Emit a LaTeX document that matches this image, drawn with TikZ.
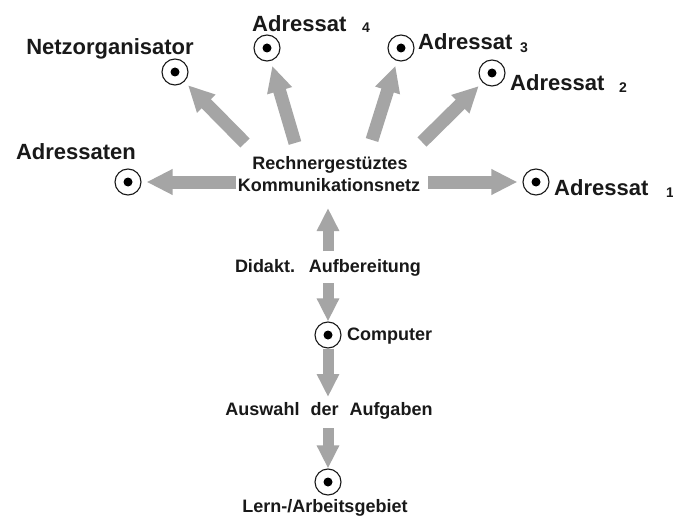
\documentclass[tikz,border=0pt]{standalone}
\usepackage{fontspec}
\setmainfont{Liberation Sans}
\usetikzlibrary{arrows.meta}
\definecolor{arrgray}{RGB}{165,165,165}
\definecolor{txt}{RGB}{25,25,25}
\begin{document}
\begin{tikzpicture}[x=1pt,y=-1pt,
  lbl/.style={font=\fontsize{22}{24}\selectfont\bfseries, text=txt, inner sep=0pt},
  mid/.style={font=\fontsize{18}{20}\selectfont\bfseries, text=txt, inner sep=0pt},
  idx/.style={font=\fontsize{14}{16}\selectfont\bfseries, text=txt, inner sep=0pt},
  pt/.style={circle, draw=txt, line width=1.1pt, minimum size=26pt, inner sep=0pt, fill=white,
    path picture={\fill[black] (path picture bounding box.center) circle (4.5pt);}},
  big/.style={draw=arrgray, line width=13pt, line cap=butt, -{Triangle[width=24pt,length=26pt]}, shorten >=5pt},
  small/.style={draw=arrgray, line width=11pt, line cap=butt, -{Triangle[width=21pt,length=23pt]}}
]
\useasboundingbox[fill=white] (0,0) rectangle (673,519);

% circles
\node[pt] (nzo) at (175,72) {};
\node[pt] (a4) at (267,48) {};
\node[pt] (a3) at (401,48) {};
\node[pt] (a2) at (492,73) {};
\node[pt] (ads) at (128,182) {};
\node[pt] (a1) at (536,182) {};
\node[pt] (comp) at (328,335) {};
\node[pt] (lern) at (328,482) {};

% labels
\node[lbl, anchor=base] (tnzo) at (110,55) {Netzorganisator};
\node[lbl, anchor=base] (tads) at (76,159) {Adressaten};
\node[lbl, anchor=base west] (ta4) at (252,32) {Adressat};
\node[idx, anchor=base west] (i4) at (362,33) {4};
\node[lbl, anchor=base west] (ta3) at (418,50) {Adressat};
\node[idx, anchor=base west] (i3) at (520,53) {3};
\node[lbl, anchor=base west] (ta2) at (510,91) {Adressat};
\node[idx, anchor=base west] (i2) at (619,93) {2};
\node[lbl, anchor=base west] (ta1) at (554,195) {Adressat};
\node[idx, anchor=base west] (i1) at (666,197) {1};

\node[mid, anchor=base] (r1) at (330,169) {Rechnergestüztes};
\node[mid, anchor=base] (r2) at (329,191) {Kommunikationsnetz};
\node[mid, anchor=base] (did) at (328,272) {Didakt.\hspace{14pt}Aufbereitung};
\node[mid, anchor=base west] (tcomp) at (347,340) {Computer};
\node[mid, anchor=base] (ausw) at (329,415) {Auswahl\hspace{11pt}der\hspace{11pt}Aufgaben};
\node[mid, anchor=base] (tlern) at (325,512) {Lern-/Arbeitsgebiet};

% arrow tails
\coordinate (tl) at (236,182);
\coordinate (tr) at (428,182);
\coordinate (tnz) at (245,143);
\coordinate (t4) at (295,143);
\coordinate (t3) at (372,140);
\coordinate (t2) at (422,142);
\coordinate (tu) at (328,251);
\coordinate (hu) at (328,208);
\coordinate (td) at (328,283);
\coordinate (ha) at (328,397);
\coordinate (tb) at (328,428);

\draw[big] (tl) -- (ads);
\draw[big] (tr) -- (a1);
\draw[big] (tnz) -- (nzo);
\draw[big] (t4) -- (a4);
\draw[big] (t3) -- (a3);
\draw[big] (t2) -- (a2);

\draw[small] (tu) -- (hu);
\draw[small] (td) -- (comp);
\draw[small] (comp) -- (ha);
\draw[small] (tb) -- (lern);
\end{tikzpicture}
\end{document}
